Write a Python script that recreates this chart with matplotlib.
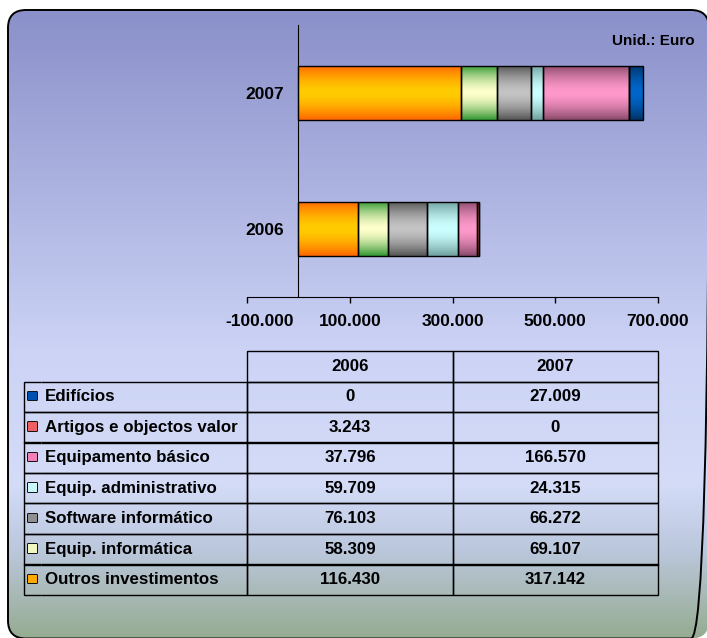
import numpy as np
import matplotlib
matplotlib.use("Agg")
import matplotlib.pyplot as plt
from matplotlib.patches import FancyBboxPatch
from matplotlib.ticker import FuncFormatter
from matplotlib.colors import to_rgb
from matplotlib.transforms import ScaledTranslation
from matplotlib import patheffects as pe

plt.rcParams['font.family'] = ['Liberation Sans', 'DejaVu Sans']
plt.rcParams['font.weight'] = 'bold'
plt.rcParams['axes.unicode_minus'] = False

years = ["2006", "2007"]
# stacking order, left to right
categories = ["Outros investimentos", "Equip. informática", "Software informático",
              "Equip. administrativo", "Equipamento básico",
              "Artigos e objectos valor", "Edifícios"]
values_2006 = [116430, 58309, 76103, 59709, 37796, 3243, 0]
values_2007 = [317142, 69107, 66272, 24315, 166570, 0, 27009]
x_ticks = [-100000, 100000, 300000, 500000, 700000]

# (edge shade, centre shade) for the bar gradients
bar_shades = [("#ff6600", "#ffcc00"), ("#339933", "#ffffcc"), ("#555555", "#c4c4c4"),
              ("#6f9f9f", "#ccffff"), ("#8a4a6a", "#ff99cc"), ("#993333", "#ff6666"),
              ("#003366", "#0066cc")]
key_colors = ["#ffa800", "#f0f8c0", "#909090", "#c8f8f8", "#f080b8", "#f06060", "#0050b0"]


def fmt(v, pos=None):
    return f"{v:,.0f}".replace(",", ".")


def shade_bar(ax, bar, edge, mid):
    w, h = bar.get_width(), bar.get_height()
    if w <= 0:
        return
    x, y = bar.get_x(), bar.get_y()
    t = np.linspace(0, 1, 80)
    k = np.abs(2 * t - 1) ** 1.6
    c0, c1 = np.array(to_rgb(edge)), np.array(to_rgb(mid))
    grad = c1 + (c0 - c1) * k[:, None]
    img = ax.imshow(grad[:, None, :], extent=(x, x + w, y, y + h), aspect='auto',
                    origin='lower', zorder=2, interpolation='bilinear')
    img.set_clip_path(bar)


fig = plt.figure(figsize=(7.07, 6.38), dpi=100)
fig.patch.set_facecolor("white")

# background panel with rounded frame
bg = fig.add_axes([0, 0, 1, 1], zorder=-10)
bg.axis("off")
stops = [(0.0, (136, 142, 200)), (0.55, (204, 211, 245)), (0.76, (212, 220, 248)),
         (0.86, (188, 200, 222)), (1.0, (150, 172, 146))]
pos = np.linspace(0, 1, 300)
sp = [s[0] for s in stops]
cols = np.array([s[1] for s in stops]) / 255.0
grad_bg = np.stack([np.interp(pos, sp, cols[:, i]) for i in range(3)], axis=1)
frame = FancyBboxPatch((8, 10), 701, 628.5, boxstyle="round,pad=0,rounding_size=18",
                       facecolor="none", edgecolor="black", linewidth=1.4, zorder=3)
bg.add_patch(frame)
im = bg.imshow(grad_bg[:, None, :], extent=(0, 707, 638, 0), aspect='auto', zorder=1)
im.set_clip_path(frame)
bg.set_xlim(0, 707)
bg.set_ylim(638, 0)

ax = fig.add_axes([247 / 707, 1 - 297 / 638, 411 / 707, 272 / 638])
ax.set_facecolor("none")

series = [values_2006, values_2007]
ypos = np.arange(len(years))
left = np.zeros(len(years))
for i, cat in enumerate(categories):
    vals = np.array([s[i] for s in series], dtype=float)
    bars = ax.barh(ypos, vals, left=left, height=0.4, facecolor="none",
                   edgecolor="black", linewidth=1.0, zorder=3)
    for b in bars:
        shade_bar(ax, b, *bar_shades[i])
    left += vals

ax.set_xlim(-100000, 700000)
ax.set_ylim(-0.5, 1.5)
ax.set_xticks(x_ticks)
ax.xaxis.set_major_formatter(FuncFormatter(fmt))
ax.set_yticks(ypos)
ax.set_yticklabels(years)
ax.spines["top"].set_visible(False)
ax.spines["right"].set_visible(False)
ax.spines["left"].set_position(("data", 0))
ax.tick_params(axis="x", direction="out", length=4, width=1, pad=8, labelsize=12.5)
ax.tick_params(axis="y", length=0, pad=10, labelsize=12.5)
for lab in ax.get_xticklabels() + ax.get_yticklabels():
    lab.set_fontweight("bold")
# first label sits a bit to the right, as in the original
first = ax.get_xticklabels()[0]
first.set_transform(first.get_transform() + ScaledTranslation(13 / 100, 0, fig.dpi_scale_trans))

fig.text(695 / 707, 1 - 41 / 638, "Unid.: Euro", ha="right", va="center",
         fontsize=11, fontweight="bold")

# data table under the chart, listed top to bottom in reverse stacking order
rows = list(range(len(categories)))[::-1]
cell_text = [["", "", years[0], years[1]]]
for i in rows:
    cell_text.append(["\u25a0", categories[i], fmt(values_2006[i]), fmt(values_2007[i])])

x0 = (24 - 247) / 411
y0 = (297 - 595) / 272
tbl = ax.table(cellText=cell_text, colWidths=[17, 206, 206, 205], cellLoc="center",
               bbox=[x0, y0, 634 / 411, 244 / 272])
tbl.auto_set_font_size(False)
tbl.set_fontsize(12.2)
for (r, c), cell in tbl.get_celld().items():
    cell.set_facecolor("none")
    cell.set_linewidth(1.0)
    txt = cell.get_text()
    txt.set_fontweight("bold")
    if r == 0:
        if c < 2:
            cell.visible_edges = ""
        continue
    if c == 0:
        cell.visible_edges = "BTL"
        txt.set_color(key_colors[rows[r - 1]])
        txt.set_fontsize(12.5)
        txt.set_path_effects([pe.Stroke(linewidth=1.3, foreground="black"), pe.Normal()])
    elif c == 1:
        cell.visible_edges = "BTR"
        cell.PAD = 0.02
        txt.set_horizontalalignment("left")
        cell._loc = "left"

fig.savefig("out.png", dpi=100)
